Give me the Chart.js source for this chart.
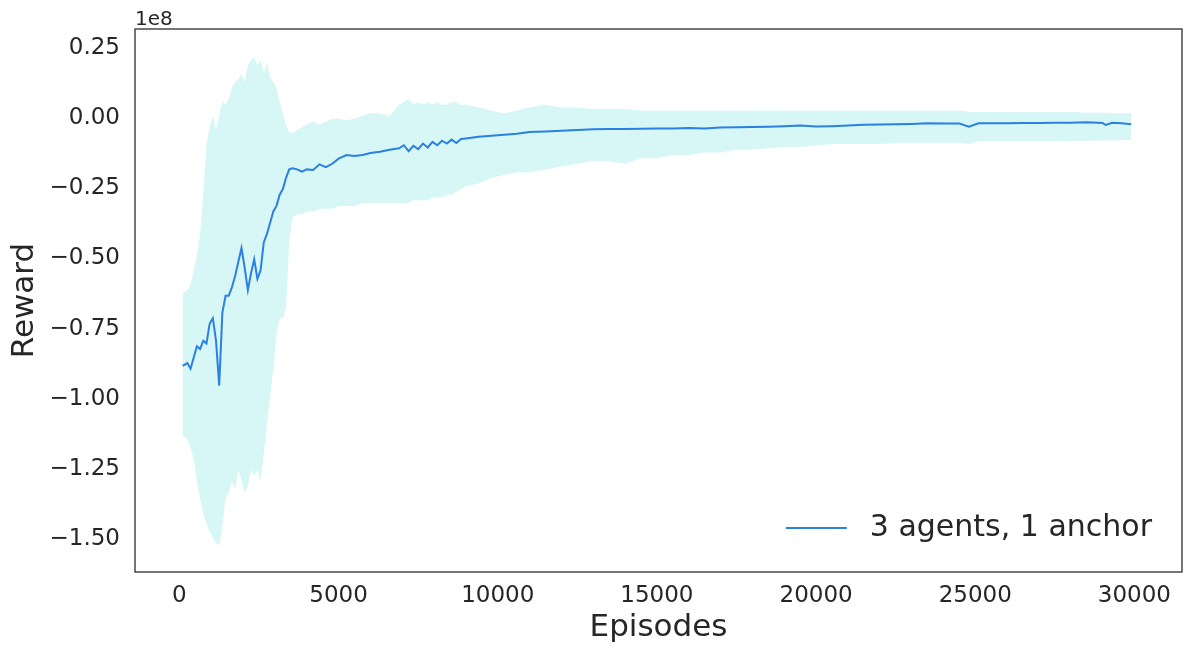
<!DOCTYPE html>
<html>
<head>
<meta charset="utf-8">
<script src="https://cdn.jsdelivr.net/npm/chart.js@4"></script>
<style>
    html, body { margin: 0; padding: 0; background: #ffffff; }
    #wrap { width: 1188px; height: 653px; }
</style>
</head>
<body>
<div id="wrap"><canvas id="chart_reward"></canvas></div>
<script>
// values in units of 1e8
const episodes = [100, 250, 350, 450, 550, 650, 750, 850, 950, 1050, 1150, 1250, 1350, 1450, 1550, 1650, 1750, 1850, 1950, 2050,
    2150, 2250, 2350, 2450, 2550, 2650, 2750, 2850, 2950, 3050, 3150, 3250, 3350, 3450, 3550, 3700, 3850, 4000, 4200, 4400,
    4600, 4800, 5000, 5250, 5500, 5750, 6000, 6300, 6600, 6900, 7050, 7200, 7350, 7500, 7650, 7800, 7950, 8100, 8250, 8400,
    8550, 8700, 8850, 9000, 9400, 9800, 10200, 10600, 11000, 11500, 12000, 12500, 13000, 13500, 14000, 14500, 15000, 15500, 16000, 16500,
    17000, 17500, 18000, 18500, 19000, 19500, 20000, 20500, 21000, 21500, 22000, 22500, 23000, 23500, 24000, 24500, 24800, 25100, 25500, 26000,
    26500, 27000, 27500, 28000, 28500, 29000, 29100, 29300, 29600, 29900];
const meanReward = [-0.89, -0.88, -0.90, -0.86, -0.82, -0.83, -0.80, -0.81, -0.74, -0.72, -0.80, -0.96, -0.70, -0.64, -0.64, -0.61, -0.57, -0.52, -0.47, -0.54,
    -0.62, -0.56, -0.51, -0.58, -0.55, -0.45, -0.42, -0.38, -0.34, -0.32, -0.28, -0.26, -0.22, -0.19, -0.186, -0.19, -0.198, -0.19, -0.192, -0.172,
    -0.182, -0.17, -0.152, -0.139, -0.142, -0.139, -0.132, -0.127, -0.12, -0.115, -0.104, -0.125, -0.106, -0.118, -0.098, -0.112, -0.092, -0.104, -0.088, -0.098,
    -0.084, -0.096, -0.082, -0.08, -0.074, -0.07, -0.067, -0.063, -0.057, -0.055, -0.052, -0.05, -0.047, -0.046, -0.046, -0.045, -0.044, -0.044, -0.043, -0.044,
    -0.041, -0.04, -0.039, -0.038, -0.036, -0.034, -0.037, -0.036, -0.034, -0.031, -0.03, -0.029, -0.028, -0.026, -0.027, -0.027, -0.038, -0.026, -0.026, -0.026,
    -0.025, -0.025, -0.024, -0.024, -0.022, -0.025, -0.032, -0.024, -0.026, -0.029];
const upperReward = [-0.63, -0.62, -0.60, -0.55, -0.50, -0.42, -0.28, -0.10, -0.04, 0.00, -0.05, 0.00, 0.05, 0.04, 0.06, 0.10, 0.12, 0.13, 0.15, 0.12,
    0.18, 0.20, 0.21, 0.18, 0.20, 0.15, 0.19, 0.14, 0.12, 0.10, 0.05, 0.01, -0.03, -0.06, -0.06, -0.05, -0.04, -0.03, -0.02, -0.03,
    -0.02, -0.01, -0.01, -0.015, -0.01, 0.00, 0.01, 0.01, 0.00, 0.04, 0.05, 0.06, 0.04, 0.05, 0.04, 0.05, 0.04, 0.05, 0.04, 0.04,
    0.05, 0.05, 0.04, 0.04, 0.03, 0.02, 0.01, 0.02, 0.03, 0.04, 0.03, 0.03, 0.025, 0.025, 0.025, 0.02, 0.02, 0.02, 0.02, 0.02,
    0.02, 0.02, 0.02, 0.02, 0.02, 0.02, 0.02, 0.02, 0.02, 0.02, 0.02, 0.02, 0.02, 0.02, 0.02, 0.02, 0.015, 0.015, 0.015, 0.015,
    0.015, 0.015, 0.015, 0.015, 0.012, 0.012, 0.012, 0.01, 0.01, 0.01];
const lowerReward = [-1.14, -1.15, -1.18, -1.22, -1.30, -1.36, -1.42, -1.45, -1.48, -1.50, -1.52, -1.53, -1.46, -1.36, -1.34, -1.30, -1.33, -1.26, -1.30, -1.34,
    -1.32, -1.26, -1.28, -1.26, -1.30, -1.20, -1.10, -1.00, -0.90, -0.78, -0.72, -0.72, -0.68, -0.45, -0.36, -0.35, -0.35, -0.34, -0.34, -0.33,
    -0.33, -0.33, -0.32, -0.32, -0.32, -0.31, -0.31, -0.31, -0.31, -0.31, -0.31, -0.31, -0.30, -0.30, -0.30, -0.30, -0.29, -0.29, -0.29, -0.28,
    -0.28, -0.27, -0.26, -0.25, -0.24, -0.22, -0.21, -0.20, -0.20, -0.19, -0.18, -0.17, -0.16, -0.16, -0.17, -0.15, -0.15, -0.14, -0.14, -0.13,
    -0.13, -0.12, -0.12, -0.115, -0.11, -0.11, -0.105, -0.10, -0.10, -0.10, -0.10, -0.095, -0.095, -0.095, -0.095, -0.095, -0.10, -0.09, -0.09, -0.09,
    -0.09, -0.09, -0.09, -0.088, -0.088, -0.087, -0.087, -0.086, -0.086, -0.085];

const xTicks = [0, 5000, 10000, 15000, 20000, 25000, 30000];
const yTicks = [-1.5, -1.25, -1.0, -0.75, -0.5, -0.25, 0.0, 0.25];
const seriesLabel = '3 agents, 1 anchor';
const scaleLabel = '1e8';

const textColor = '#262626';
const lineColor = '#2a80e3';

function toPoints(values) {
    return episodes.map((ep, i) => ({x: ep, y: values[i]}));
}

const framePlugin = {
    id: 'frame',
    afterDatasetsDraw(chart) {
        const {ctx, chartArea} = chart;
        ctx.save();
        ctx.strokeStyle = textColor;
        ctx.lineWidth = 1.25;
        ctx.strokeRect(chartArea.left, chartArea.top, chartArea.right - chartArea.left, chartArea.bottom - chartArea.top);

        // offset text above the y axis
        ctx.fillStyle = textColor;
        ctx.font = '20px "DejaVu Sans"';
        ctx.textAlign = 'left';
        ctx.textBaseline = 'alphabetic';
        ctx.fillText(scaleLabel, chartArea.left, chartArea.top - 4);

        // legend in lower right corner
        const ds = chart.data.datasets[0];
        ctx.font = '30px "DejaVu Sans"';
        const w = ctx.measureText(ds.label).width;
        const textX = chartArea.right - 30 - w;
        const y = chartArea.bottom - 44;
        ctx.textBaseline = 'middle';
        ctx.fillText(ds.label, textX, y);
        ctx.strokeStyle = ds.borderColor;
        ctx.lineWidth = 2;
        ctx.beginPath();
        ctx.moveTo(textX - 84, y);
        ctx.lineTo(textX - 23, y);
        ctx.stroke();
        ctx.restore();
    }
};

const ctx = document.getElementById('chart_reward').getContext('2d');
const rewardChart = new Chart(ctx, {
    type: 'line',
    data: {
        datasets: [
            {
                label: seriesLabel,
                data: toPoints(meanReward),
                borderColor: lineColor,
                borderWidth: 2,
                pointRadius: 0,
                tension: 0,
                fill: false,
                order: 0
            },
            {
                label: 'upper',
                data: toPoints(upperReward),
                borderWidth: 0,
                borderColor: 'rgba(0,0,0,0)',
                backgroundColor: 'rgba(175, 238, 238, 0.5)',
                pointRadius: 0,
                fill: '+1',
                order: 1
            },
            {
                label: 'lower',
                data: toPoints(lowerReward),
                borderWidth: 0,
                borderColor: 'rgba(0,0,0,0)',
                pointRadius: 0,
                fill: false,
                order: 1
            }
        ]
    },
    options: {
        responsive: true,
        maintainAspectRatio: false,
        animation: false,
        layout: {
            padding: {left: 0, right: 6, top: 29, bottom: 0}
        },
        plugins: {
            legend: {display: false},
            tooltip: {enabled: false}
        },
        scales: {
            x: {
                type: 'linear',
                min: -1395,
                max: 31495,
                afterBuildTicks: scale => {
                    scale.ticks = xTicks.map(v => ({value: v}));
                },
                afterFit: scale => {
                    scale.height = 81;
                },
                grid: {display: false, drawTicks: false},
                border: {display: false},
                ticks: {
                    padding: 10,
                    color: textColor,
                    font: {family: 'DejaVu Sans', size: 23},
                    maxRotation: 0,
                    callback: v => String(v)
                },
                title: {
                    display: true,
                    text: 'Episodes',
                    color: textColor,
                    font: {family: 'DejaVu Sans', size: 31},
                    padding: {top: 0, bottom: 6}
                }
            },
            y: {
                type: 'linear',
                min: -1.624,
                max: 0.31,
                afterBuildTicks: scale => {
                    scale.ticks = yTicks.map(v => ({value: v}));
                },
                afterFit: scale => {
                    scale.width = 135;
                },
                grid: {display: false, drawTicks: false},
                border: {display: false},
                ticks: {
                    padding: 15,
                    labelOffset: 2,
                    color: textColor,
                    font: {family: 'DejaVu Sans', size: 23},
                    callback: v => v.toFixed(2).replace('-', '\u2212')
                },
                title: {
                    display: true,
                    text: 'Reward',
                    color: textColor,
                    font: {family: 'DejaVu Sans', size: 31},
                    padding: {top: 6, bottom: 0}
                }
            }
        }
    },
    plugins: [framePlugin]
});
</script>
</body>
</html>
